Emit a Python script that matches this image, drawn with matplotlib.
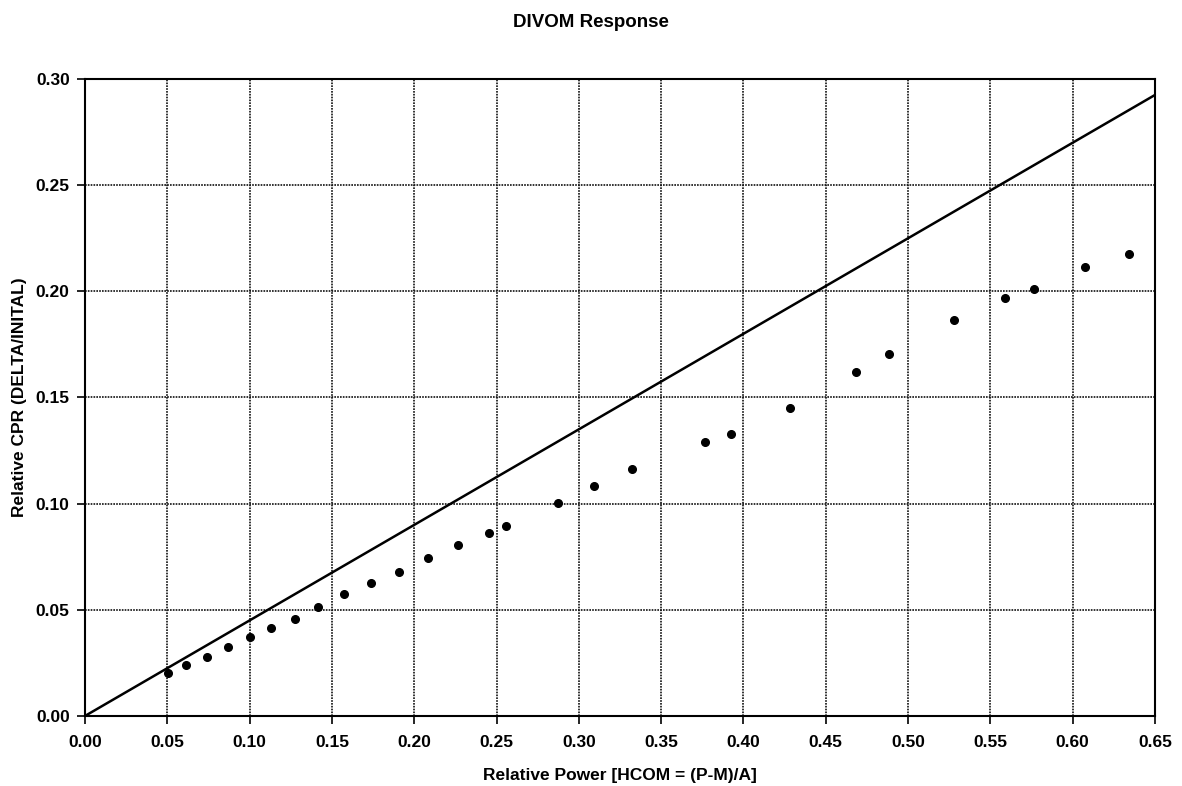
import numpy as np
import matplotlib
matplotlib.use("Agg")
import matplotlib.pyplot as plt

#---------------------FONT------------------------
matplotlib.rc('font', family='Liberation Sans', weight='bold', size=13)

#---------------------DATA------------------------
power = [0.0504, 0.0614, 0.0741, 0.0869, 0.1002, 0.1130, 0.1276, 0.1416,
         0.1574, 0.1738, 0.1908, 0.2084, 0.2266, 0.2454, 0.2558, 0.2874,
         0.3092, 0.3323, 0.3767, 0.3925, 0.4283, 0.4684, 0.4885, 0.5280,
         0.5590, 0.5766, 0.6075, 0.6343]
cpr = [0.0203, 0.0240, 0.0278, 0.0325, 0.0372, 0.0414, 0.0457, 0.0513,
       0.0575, 0.0626, 0.0678, 0.0744, 0.0805, 0.0862, 0.0895, 0.1003,
       0.1083, 0.1163, 0.1291, 0.1328, 0.1451, 0.1620, 0.1705, 0.1865,
       0.1969, 0.2011, 0.2115, 0.2176]
line_x = [0.0, 0.65]
line_y = [0.0, 0.2925]

xticks = np.arange(0, 0.651, 0.05)
yticks = np.arange(0, 0.301, 0.05)

#------------Figure Layout--------------
fig = plt.figure(figsize=(11.82, 7.86), dpi=100)
fig.subplots_adjust(left=0.0719, right=0.9772, top=0.8995, bottom=0.0891)
ax = fig.add_subplot(111)

ax.plot(line_x, line_y, color='black', linewidth=1.8, zorder=3)
ax.plot(power, cpr, linestyle='none', marker='o', markersize=5.5,
        color='black', zorder=4)

ax.set_xlim(0, 0.65)
ax.set_ylim(0, 0.30)
ax.set_xticks(xticks)
ax.set_yticks(yticks)
ax.set_xticklabels(['%.2f' % v for v in xticks])
ax.set_yticklabels(['%.2f' % v for v in yticks])
ax.grid(True, color='#111111', linestyle=(0, (1, 0.7)), linewidth=1.2)
ax.set_axisbelow(True)
for s in ax.spines.values():
    s.set_linewidth(1.5)
ax.tick_params(direction='out', length=6, width=1.2, labelsize=12.5)
ax.tick_params(axis='x', pad=8)
ax.tick_params(axis='y', pad=5)

ax.set_xlabel('Relative Power [HCOM = (P-M)/A]', fontsize=12.5, fontweight='bold', labelpad=13)
ax.set_ylabel('Relative CPR (DELTA/INITAL)', fontsize=12.5, fontweight='bold', labelpad=6)
fig.suptitle('DIVOM Response', fontsize=13.5, fontweight='bold', y=0.982)

fig.savefig('out.png', dpi=100)
